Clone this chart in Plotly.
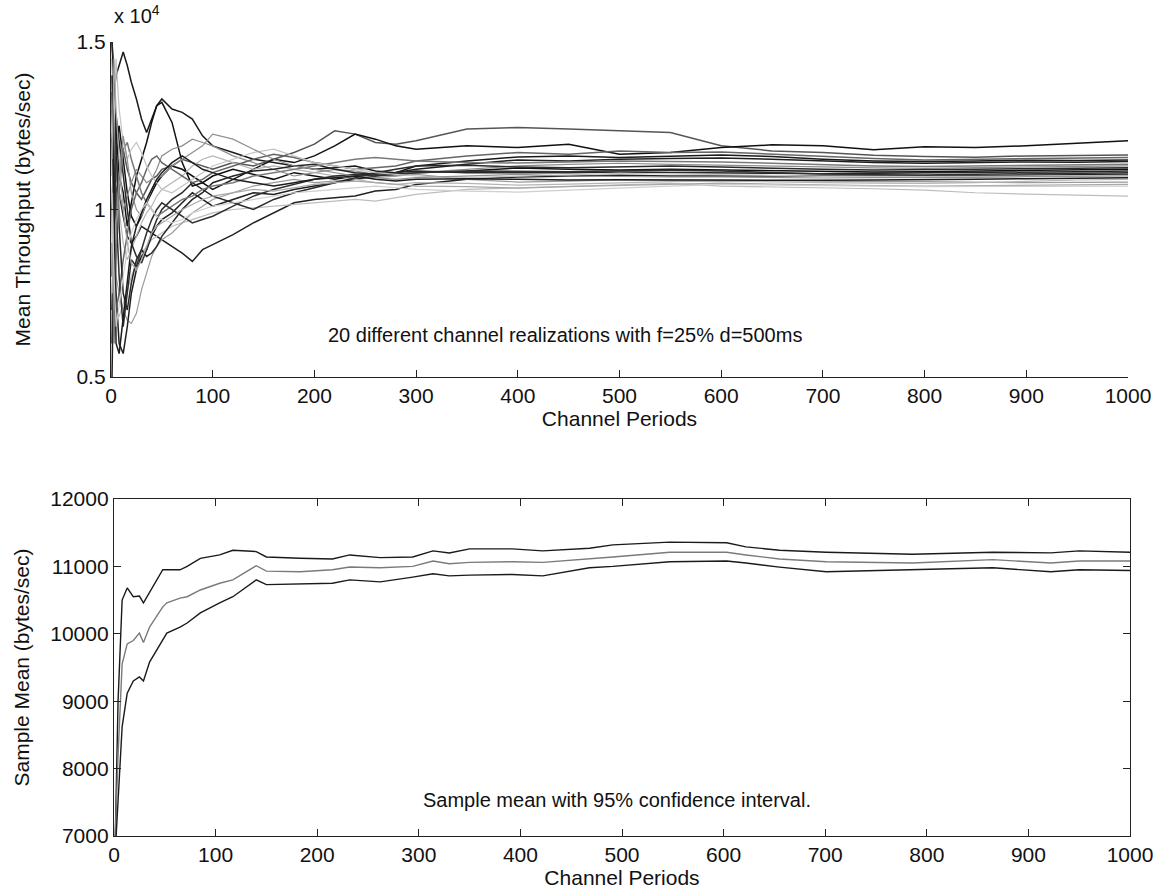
import plotly.graph_objects as go

# ---------------- data: top panel (20 channel realizations) ----------------
periods = [1, 3, 5, 8, 12, 16, 20, 25, 30, 35, 40, 45, 50, 60, 70, 80, 90, 100,
           120, 140, 160, 180, 200, 220, 240, 260, 280, 300, 350, 400, 450, 500,
           550, 600, 650, 700, 750, 800, 850, 900, 950, 1000]

real_A = [15000, 13500, 14000, 14300, 14700, 14300, 13800, 13300, 12700, 12300, 12700, 13100, 13300, 13000, 12900, 12700, 12200, 11900,
          11700, 11500, 11400, 11300, 11200, 11250, 11300, 11150, 11100,
          11300, 11450, 11570, 11600, 11550, 11600, 11630, 11580, 11500, 11450, 11430, 11450, 11470, 11460, 11480]
real_B = [8000, 11000, 12500, 11000, 10500, 9500, 10200, 11000, 11500, 12000, 12600, 13100, 13200, 12600, 11400, 10700, 10800, 11000,
          11200, 11050, 10900, 11100, 11000, 10900, 11000, 11100, 11050,
          11100, 11150, 11240, 11200, 11180, 11200, 11180, 11150, 11130, 11120, 11130, 11150, 11170, 11180, 11200]
real_C = [10000, 12200, 11500, 10500, 9800, 9200, 9000, 9200, 9500, 9400, 9300, 9200, 9100, 8900, 8700, 8450, 8800, 8950,
          9250, 9600, 9900, 10200, 10300, 10350, 10400, 10550, 10600,
          10750, 10900, 10970, 11000, 11020, 11000, 11000, 10990, 10980, 10990, 11000, 11010, 11030, 11040, 11050]
real_D = [12000, 9000, 10500, 11000, 11800, 11200, 10800, 10500, 10300, 10600, 10900, 11000, 11200, 11300, 11500, 11400, 11300, 11200,
          11400, 11300, 11500, 11700, 11950, 12350, 12250, 12000, 11950,
          12050, 12400, 12450, 12400, 12350, 12300, 11900, 11750, 11700, 11620, 11580, 11560, 11600, 11620, 11630]
real_E = [7000, 9500, 12000, 12500, 11500, 10500, 9800, 9500, 9800, 10200, 10500, 10800, 11000, 11300, 11200, 11000, 10800, 10600,
          10900, 11200, 11500, 11400, 11600, 11900, 12250, 12100, 11900,
          11800, 11900, 11850, 11950, 11650, 11700, 11850, 11930, 11900, 11780, 11870, 11850, 11900, 11980, 12050]
real_F = [9000, 7500, 7000, 6800, 7200, 7600, 8000, 8400, 8700, 8900, 9100, 9200, 9300, 9500, 9600, 9700, 9800, 9900,
          10000, 10050, 10100, 10150, 10200, 10250, 10300, 10250, 10350,
          10450, 10600, 10650, 10700, 10750, 10780, 10700, 10680, 10650, 10620, 10580, 10500, 10460, 10430, 10400]
real_G = [13000, 9500, 8000, 7500, 7000, 6700, 6600, 6900, 7600, 8100, 8600, 8900, 9100, 9300, 9600, 9900, 10100, 10300,
          10500, 10700, 10800, 10900, 10800, 10850, 10900, 10950, 11000,
          11050, 10900, 10820, 10850, 10880, 10870, 10880, 10860, 10840, 10830, 10830, 10810, 10800, 10810, 10820]
real_H = [5000, 9000, 7500, 6000, 5700, 6500, 7500, 8200, 8600, 8800, 9200, 9500, 9700, 9900, 10200, 10500, 10300, 10100,
          10300, 10500, 10450, 10600, 10700, 10800, 10900, 11000, 11100,
          11200, 11350, 11480, 11450, 11500, 11520, 11540, 11500, 11450, 11400, 11380, 11400, 11420, 11410, 11430]
real_I = [14500, 12000, 11000, 10500, 10000, 10400, 10800, 11200, 11000, 10800, 10900, 11200, 11600, 11800, 11900, 12100, 12000, 11900,
          11600, 11400, 11200, 11000, 11100, 11200, 11150, 11050, 11000,
          11100, 11200, 11300, 11350, 11380, 11350, 11330, 11300, 11270, 11240, 11230, 11250, 11270, 11280, 11300]
real_J = [11000, 13000, 11500, 10000, 9000, 8500, 8800, 9200, 9600, 9900, 10100, 10400, 10600, 10800, 11000, 11300, 11500, 11600,
          11400, 11200, 11300, 11200, 11100, 11000, 10900, 10800, 10750,
          10800, 10780, 10730, 10760, 10800, 10830, 10850, 10820, 10800, 10790, 10780, 10800, 10850, 10880, 10900]
real_K = [6000, 11500, 12800, 12000, 11000, 10000, 9000, 8600, 8400, 8800, 9300, 9700, 10000, 10300, 10500, 10800, 10600, 10400,
          10200, 10000, 10300, 10500, 10650, 10800, 10950, 11100, 11200,
          11300, 11320, 11270, 11250, 11280, 11300, 11270, 11230, 11200, 11180, 11180, 11200, 11220, 11230, 11250]
real_L = [13500, 8500, 7000, 7500, 8500, 9300, 10000, 10500, 10800, 11200, 11500, 11600, 11400, 11200, 11000, 10800, 10900, 11100,
          11300, 11500, 11650, 11550, 11400, 11300, 11200, 11250, 11300,
          11450, 11600, 11700, 11650, 11750, 11700, 11720, 11650, 11600, 11520, 11480, 11500, 11520, 11540, 11550]
real_M = [15000, 14000, 12000, 9500, 7500, 7000, 7800, 8500, 8800, 8600, 8700, 8900, 9200, 9600, 10000, 10300, 10500, 10800,
          11000, 11150, 11200, 11300, 11350, 11200, 11100, 11050, 11100,
          11150, 11100, 11090, 11100, 11120, 11100, 11090, 11080, 11070, 11080, 11080, 11100, 11120, 11130, 11150]
real_N = [10000, 6000, 8500, 10500, 11800, 12000, 11500, 11000, 10500, 10200, 10000, 9800, 9900, 10100, 10300, 10400, 10600, 10700,
          10800, 11000, 11100, 11200, 11300, 11400, 11500, 11550, 11500,
          11450, 11400, 11390, 11420, 11450, 11430, 11420, 11380, 11330, 11300, 11280, 11300, 11320, 11330, 11350]
real_O = [12000, 13000, 10000, 8000, 6500, 7500, 8500, 8300, 8800, 9300, 9700, 10000, 10200, 10000, 9800, 9600, 9700, 9800,
          10100, 10400, 10600, 10750, 10900, 11000, 11050, 11000, 11050,
          11100, 11150, 11150, 11130, 11160, 11170, 11150, 11100, 11060, 11040, 11030, 11050, 11070, 11080, 11100]
real_P = [7500, 12500, 14500, 13000, 12000, 11500, 11800, 12000, 11700, 11300, 11000, 10800, 10600, 10500, 10700, 10900, 11100, 11300,
          11500, 11700, 11800, 11600, 11400, 11300, 11200, 11100, 11050,
          11000, 10950, 11000, 11050, 11080, 11060, 11050, 11020, 10990, 10980, 10980, 10990, 11000, 11010, 11020]
real_Q = [9000, 7000, 9500, 11000, 12200, 11500, 10500, 10000, 9800, 10200, 10600, 10900, 11000, 11300, 11500, 11700, 11900, 12250,
          12100, 11800, 11500, 11300, 11200, 11100, 11000, 10950, 10900,
          10950, 11000, 11050, 11000, 10980, 10970, 10970, 10950, 10940, 10950, 10950, 10960, 10980, 10990, 11000]
real_R = [14000, 10000, 6000, 5700, 6800, 8000, 8900, 9500, 9900, 10300, 10600, 10900, 11100, 11400, 11600, 11400, 11200, 11100,
          10900, 10800, 10700, 10800, 10900, 10950, 11000, 10900, 10850,
          10900, 10920, 10900, 10880, 10890, 10880, 10880, 10870, 10870, 10880, 10880, 10900, 10920, 10940, 10950]
real_S = [11500, 14500, 13000, 11500, 10000, 9000, 8400, 8200, 8500, 8900, 9300, 9500, 9600, 9800, 10000, 10150, 10300, 10400,
          10500, 10600, 10550, 10650, 10750, 10800, 10850, 10800, 10750,
          10700, 10680, 10640, 10680, 10720, 10760, 10790, 10760, 10730, 10710, 10700, 10710, 10720, 10740, 10750]
real_T = [10500, 8000, 6500, 7200, 8000, 8800, 9300, 9700, 10000, 10200, 10000, 9800, 9700, 9600, 9700, 9900, 10000, 10100,
          10200, 10300, 10400, 10500, 10550, 10600, 10650, 10700, 10650,
          10600, 10550, 10520, 10580, 10650, 10700, 10750, 10740, 10720, 10700, 10680, 10690, 10700, 10700, 10700]

realizations = [real_A, real_B, real_C, real_D, real_E, real_F, real_G, real_H, real_I, real_J,
                real_K, real_L, real_M, real_N, real_O, real_P, real_Q, real_R, real_S, real_T]
real_colors = ["#1a1a1a", "#111111", "#222222", "#555555", "#111111", "#bdbdbd", "#9a9a9a", "#1f1f1f", "#8c8c8c", "#b5b5b5",
               "#2a2a2a", "#666666", "#262626", "#7a7a7a", "#303030", "#c4c4c4", "#909090", "#1c1c1c", "#a8a8a8", "#cfcfcf"]

# ---------------- data: bottom panel (sample mean with 95% CI) ----------------
periods_ci = [1, 4, 8, 13, 19, 25, 29, 35, 48, 52, 65, 72, 85, 104, 117, 140, 150, 183, 215, 232,
              262, 294, 314, 330, 350, 392, 422, 468, 491, 547, 603, 622, 655, 701, 786, 865, 922, 950, 1000]
ci_upper = [6800, 9000, 10500, 10680, 10550, 10560, 10460, 10620, 10950, 10950, 10950, 11000, 11120, 11170, 11240, 11220, 11140, 11120, 11110, 11170,
            11130, 11140, 11230, 11200, 11260, 11260, 11230, 11270, 11320, 11360, 11350, 11290, 11240, 11210, 11180, 11210, 11200, 11230, 11210]
sample_mean = [6900, 8200, 9550, 9850, 9900, 10010, 9870, 10100, 10400, 10460, 10530, 10550, 10650, 10750, 10800, 11010, 10930, 10920, 10950, 10990,
               10980, 11000, 11080, 11040, 11060, 11070, 11060, 11110, 11140, 11210, 11210, 11170, 11110, 11070, 11050, 11100, 11050, 11080, 11080]
ci_lower = [6700, 7500, 8620, 9120, 9300, 9360, 9300, 9580, 9900, 10010, 10100, 10160, 10310, 10460, 10550, 10800, 10730, 10740, 10750, 10800,
            10770, 10840, 10890, 10860, 10870, 10880, 10860, 10980, 11000, 11070, 11080, 11050, 10990, 10920, 10950, 10980, 10920, 10950, 10940]

x_ticks = [0, 100, 200, 300, 400, 500, 600, 700, 800, 900, 1000]
top_y_ticks = [5000, 10000, 15000]
top_y_ticktext = ["0.5", "1", "1.5"]
bottom_y_ticks = [7000, 8000, 9000, 10000, 11000, 12000]
bottom_y_ticktext = ["7000", "8000", "9000", "10000", "11000", "12000"]

FONT = "Liberation Sans, Arial, Helvetica, sans-serif"

fig = go.Figure()
for vals, col in zip(realizations, real_colors):
    width = 1.5 if int(col[1:3], 16) < 0x80 else 1.2
    fig.add_trace(go.Scatter(x=periods, y=vals, mode="lines", xaxis="x", yaxis="y",
                             line=dict(color=col, width=width), showlegend=False, hoverinfo="skip"))

for vals, col in [(ci_upper, "#1a1a1a"), (sample_mean, "#7a7a7a"), (ci_lower, "#1a1a1a")]:
    fig.add_trace(go.Scatter(x=periods_ci, y=vals, mode="lines", xaxis="x2", yaxis="y2",
                             line=dict(color=col, width=1.4), showlegend=False, hoverinfo="skip"))

W, H = 1159, 892
ML, MR, MT, MB = 111, 29, 42, 56
PW, PH = W - ML - MR, H - MT - MB


def px(xp):
    return (xp - ML) / PW


def py(yp):
    return (H - MB - yp) / PH


axis_common = dict(ticks="inside", ticklen=7, tickwidth=1.2, tickcolor="#222", showgrid=False,
                   zeroline=False, showline=True, linecolor="#222", linewidth=1.3, automargin=False,
                   tickfont=dict(family=FONT, size=21, color="#111"))
TITLE_FONT = dict(family=FONT, size=21, color="#111")

fig.update_layout(
    width=W, height=H,
    margin=dict(l=ML, r=MR, t=MT, b=MB),
    paper_bgcolor="white", plot_bgcolor="white",
    font=dict(family=FONT, color="#111"),
    xaxis=dict(domain=[px(111), px(1128)], anchor="y", range=[0, 1000], tickvals=x_ticks,
               mirror=False, title=dict(text="Channel Periods", font=TITLE_FONT, standoff=2),
               **axis_common),
    yaxis=dict(domain=[py(377), py(42)], anchor="x", range=[5000, 15000],
               tickvals=top_y_ticks, ticktext=top_y_ticktext, mirror=False,
               title=dict(text="Mean Throughput (bytes/sec)", font=TITLE_FONT, standoff=40),
               **axis_common),
    xaxis2=dict(domain=[px(114), px(1130)], anchor="y2", range=[0, 1000], tickvals=x_ticks,
                mirror="ticks", title=dict(text="Channel Periods", font=TITLE_FONT, standoff=2),
                **axis_common),
    yaxis2=dict(domain=[py(836), py(499)], anchor="x2", range=[7000, 12000],
                tickvals=bottom_y_ticks, ticktext=bottom_y_ticktext, mirror="ticks",
                title=dict(text="Sample Mean (bytes/sec)", font=TITLE_FONT, standoff=14),
                **axis_common),
    annotations=[
        dict(text="x 10<sup>4</sup>", xref="paper", yref="paper", x=px(112), y=py(14),
             xanchor="left", yanchor="middle", showarrow=False, font=dict(family=FONT, size=20)),
        dict(text="20 different channel realizations with f=25% d=500ms", xref="paper", yref="paper",
             x=px(565), y=py(335), xanchor="center", yanchor="middle", showarrow=False,
             font=dict(family=FONT, size=20)),
        dict(text="Sample mean with 95% confidence interval.", xref="paper", yref="paper",
             x=px(617), y=py(800), xanchor="center", yanchor="middle", showarrow=False,
             font=dict(family=FONT, size=20)),
    ],
)

fig.write_html("out.html", config={"displayModeBar": False},
               post_script="document.body.style.margin='0';document.body.style.overflow='hidden';")
